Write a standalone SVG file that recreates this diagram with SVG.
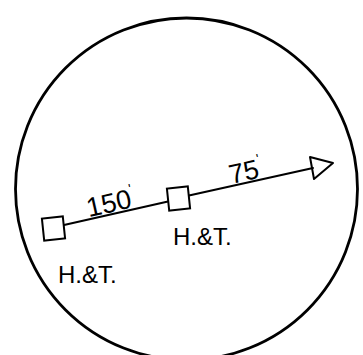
<svg xmlns="http://www.w3.org/2000/svg" width="363" height="355" viewBox="0 0 363 355">
<style>
.ln{stroke:#000;stroke-width:2;fill:none;stroke-linecap:round;stroke-linejoin:round}
.box{stroke:#000;stroke-width:2;fill:#fff}
.t{font-family:"Liberation Sans",Arial,sans-serif;font-size:27px;fill:#000}
.lb{font-family:"Liberation Sans",Arial,sans-serif;font-size:24px;fill:#000}
</style>
<rect width="363" height="355" fill="#fff"/>
<g id="circle"><circle cx="186.5" cy="189" r="171" fill="none" stroke="#000" stroke-width="2.8"/></g>
<g id="connectors">
<line class="ln" x1="64" y1="225" x2="168" y2="201.5"/>
<line class="ln" x1="189" y1="195.5" x2="313" y2="168"/>
<polygon class="ln" points="310,157 333,163 314,179"/>
</g>
<g id="node-left"><rect class="box" x="43" y="217.5" width="21" height="22" transform="rotate(-6 53.5 228.5)"/></g>
<g id="node-mid"><rect class="box" x="168" y="187.5" width="21" height="22" transform="rotate(-6 178.5 198.5)"/></g>
<g id="label-150" transform="translate(110 202.5) rotate(-12.7)"><text class="t" x="0" y="9.7" text-anchor="middle">150<tspan dy="-14" font-size="14">'</tspan></text></g>
<g id="label-75" transform="translate(245 171) rotate(-12.7)"><text class="t" x="0" y="9.7" text-anchor="middle">75<tspan dy="-14" font-size="14">'</tspan></text></g>
<g id="label-ht-left"><text class="lb" x="58" y="283">H.&amp;T.</text></g>
<g id="label-ht-mid"><text class="lb" x="173" y="245">H.&amp;T.</text></g>
</svg>
